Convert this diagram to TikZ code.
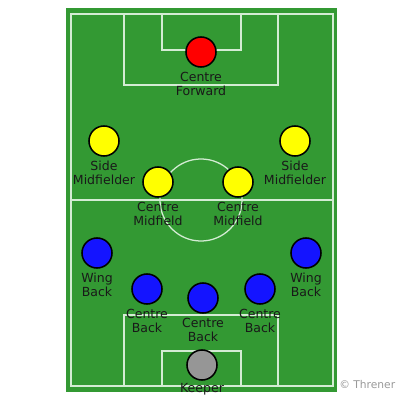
\documentclass[tikz,border=0pt]{standalone}
\usepackage{fontspec}
\setmainfont{DejaVu Sans}
\usepackage{tikz}
\usetikzlibrary{positioning}

\definecolor{pitch}{RGB}{51,153,51}
\definecolor{chalk}{RGB}{212,236,212}
\definecolor{FW_COLOR}{RGB}{255,0,0}
\definecolor{MF_COLOR}{RGB}{255,255,0}
\definecolor{DF_COLOR}{RGB}{20,20,255}
\definecolor{GK_COLOR}{RGB}{150,150,150}

\tikzstyle{chalkline}=[draw=chalk, line width=0.9pt]
\tikzstyle{player}=[circle, draw=black, line width=1.1pt, minimum size=0.75cm, inner sep=0pt]
\tikzstyle{FW}=[player, fill=FW_COLOR]
\tikzstyle{MF}=[player, fill=MF_COLOR]
\tikzstyle{DF}=[player, fill=DF_COLOR]
\tikzstyle{GK}=[player, fill=GK_COLOR]
\tikzstyle{role}=[align=center, inner sep=0pt, text=black!90, font=\fontsize{8.9}{10}\selectfont]

\begin{document}
\begin{tikzpicture}[x=0.025cm, y=-0.025cm, node distance=3pt]
      \useasboundingbox (0,0) rectangle (400,400);

      %%%%%%%%%%%%%%%%%%%%%%%%%%%%%%%%%%%%%%%%%%
      % PITCH
      %%%%%%%%%%%%%%%%%%%%%%%%%%%%%%%%%%%%%%%%%%
      \fill[pitch] (66,8) rectangle (337,392);
      \draw[chalkline] (71,14) rectangle (333,386);
      \draw[chalkline] (71,200) -- (333,200);
      \draw[chalkline] (201,200) circle (1.025cm);
      \draw[chalkline] (124,14) rectangle (278,85);
      \draw[chalkline] (162,14) rectangle (241,50);
      \draw[chalkline] (124,315) rectangle (278,386);
      \draw[chalkline] (162,351) rectangle (241,386);

      %%%%%%%%%%%%%%%%%%%%%%%%%%%%%%%%%%%%%%%%%%
      % FORWARD
      %%%%%%%%%%%%%%%%%%%%%%%%%%%%%%%%%%%%%%%%%%
      \node[FW] (CF) at (201,52) {};
      \node[role, below= of CF] (CFL) {Centre\\Forward};

      %%%%%%%%%%%%%%%%%%%%%%%%%%%%%%%%%%%%%%%%%%
      % MIDFIELD
      %%%%%%%%%%%%%%%%%%%%%%%%%%%%%%%%%%%%%%%%%%
      \node[MF] (LM) at (104,141) {};
      \node[MF] (RM) at (295,141) {};
      \node[MF] (LCM) at (158,182) {};
      \node[MF] (RCM) at (238,182) {};
      \node[role, below= of LM]  (LML)  {Side\\Midfielder};
      \node[role, below= of RM]  (RML)  {Side\\Midfielder};
      \node[role, below= of LCM] (LCML) {Centre\\Midfield};
      \node[role, below= of RCM] (RCML) {Centre\\Midfield};

      %%%%%%%%%%%%%%%%%%%%%%%%%%%%%%%%%%%%%%%%%%
      % DEFENCE
      %%%%%%%%%%%%%%%%%%%%%%%%%%%%%%%%%%%%%%%%%%
      \node[DF] (LWB) at (97,253) {};
      \node[DF] (RWB) at (306,253) {};
      \node[DF] (LCB) at (147,289) {};
      \node[DF] (CCB) at (203,298) {};
      \node[DF] (RCB) at (260,289) {};
      \node[role, below= of LWB] (LWBL) {Wing\\Back};
      \node[role, below= of RWB] (RWBL) {Wing\\Back};
      \node[role, below= of LCB] (LCBL) {Centre\\Back};
      \node[role, below= of CCB] (CCBL) {Centre\\Back};
      \node[role, below= of RCB] (RCBL) {Centre\\Back};

      %%%%%%%%%%%%%%%%%%%%%%%%%%%%%%%%%%%%%%%%%%
      % KEEPER
      %%%%%%%%%%%%%%%%%%%%%%%%%%%%%%%%%%%%%%%%%%
      \node[GK] (GK) at (202,365) {};
      \node[role, below=1.5pt of GK] (GKL) {Keeper};

      \node[anchor=west, inner sep=0pt, text=black!40, font=\fontsize{7.6}{9}\selectfont] (CR) at (339,385) {© Threner};

\end{tikzpicture}
\end{document}
